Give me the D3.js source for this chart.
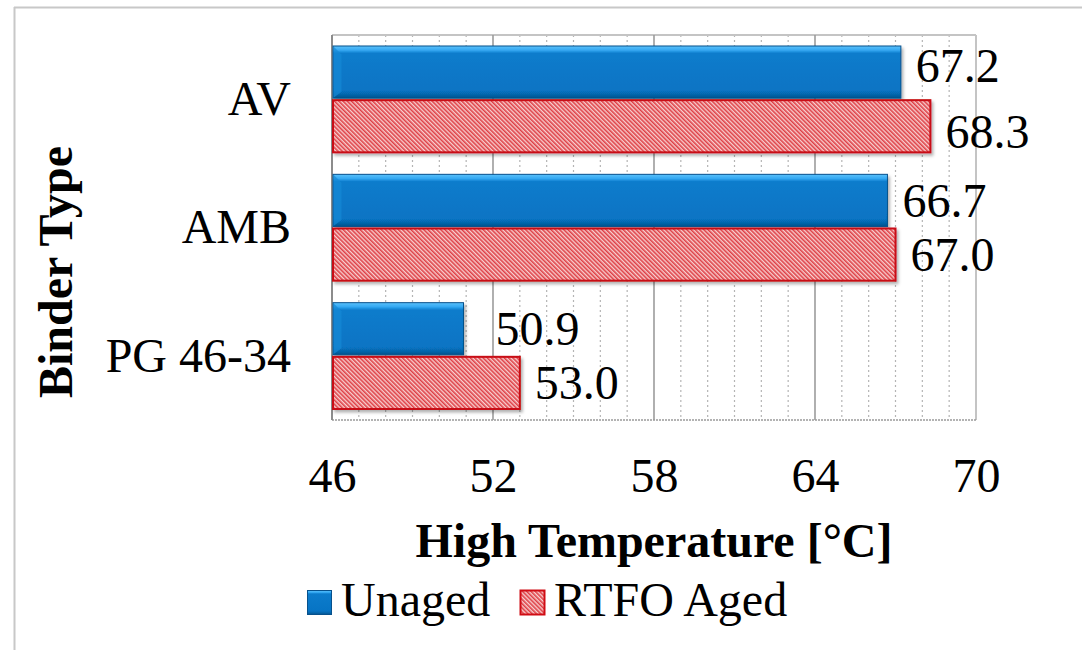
<!DOCTYPE html>
<html>
<head>
<meta charset="utf-8">
<script src="https://cdn.jsdelivr.net/npm/d3@7"></script>
<style>
  html, body { margin: 0; padding: 0; background: #fff; }
  svg { display: block; }
  svg text { font-family: "Liberation Serif", "Times New Roman", Times, "DejaVu Serif", serif !important; fill: #000; }
</style>
</head>
<body>
<svg id="chart" width="1082" height="650"></svg>
<script>
// Binder types and measured high-temperature grades
const categories = ["AV", "AMB", "PG 46-34"];
const seriesNames = ["Unaged", "RTFO Aged"];
const unaged = [67.2, 66.7, 50.9];
const rtfoAged = [68.3, 67.0, 53.0];
const xTicks = [46, 52, 58, 64, 70];

const svg = d3.select("#chart");
const W = 1082, H = 650;
const plot = { left: 332, right: 976, top: 35, bottom: 420 };
const FONT = 48;
const SERIF = '"Liberation Serif", "Times New Roman", Times, "DejaVu Serif", serif';

// small label nudges so neighbouring value labels stay clear of each other
const labelNudge = {
  "AV|Unaged": [0, -6], "AV|RTFO Aged": [0, 5],
  "PG 46-34|Unaged": [17, 0]
};

const defs = svg.append("defs");

// glossy bevelled blue fill
const gBlue = defs.append("linearGradient").attr("id", "blueFill")
  .attr("x1", 0).attr("y1", 0).attr("x2", 0).attr("y2", 1);
[[0, "#5cc2fb"], [0.08, "#34a8f2"], [0.14, "#0c7ccc"], [0.85, "#0774c4"], [0.93, "#0666ac"], [1, "#05528c"]]
  .forEach(([o, c]) => gBlue.append("stop").attr("offset", o).attr("stop-color", c));

// fine red diagonal hatch
const hatch = defs.append("pattern").attr("id", "redHatch")
  .attr("patternUnits", "userSpaceOnUse").attr("width", 3).attr("height", 3)
  .attr("patternTransform", "rotate(-45)");
hatch.append("rect").attr("width", 3).attr("height", 3).attr("fill", "#f8d0d0");
hatch.append("rect").attr("width", 1.6).attr("height", 3).attr("fill", "#de4046");

const shadow = defs.append("filter").attr("id", "barShadow")
  .attr("x", "-5%").attr("y", "-20%").attr("width", "115%").attr("height", "150%");
shadow.append("feDropShadow").attr("dx", 2).attr("dy", 2.5)
  .attr("stdDeviation", 1.6).attr("flood-color", "#000").attr("flood-opacity", 0.3);

// outer frame of the chart object
svg.append("line").attr("x1", 14).attr("x2", W).attr("y1", 7.5).attr("y2", 7.5)
  .attr("stroke", "#c8c8c8").attr("stroke-width", 2);
svg.append("line").attr("x1", 14.5).attr("x2", 14.5).attr("y1", 7).attr("y2", H)
  .attr("stroke", "#c8c8c8").attr("stroke-width", 2);

// scales
const x = d3.scaleLinear().domain([46, 70]).range([plot.left, plot.right]);
const y0 = d3.scaleBand().domain(categories).range([plot.top, plot.bottom]).padding(0);
const y1 = d3.scaleBand().domain(seriesNames).range([10, y0.bandwidth() - 10]).padding(0);

// minor gridlines (dotted, every degree)
const minor = d3.range(47, 70).filter(v => (v - 46) % 6 !== 0);
svg.append("g").selectAll("line").data(minor).join("line")
  .attr("x1", d => x(d)).attr("x2", d => x(d))
  .attr("y1", plot.top).attr("y2", plot.bottom)
  .attr("stroke", "#b4b4b4").attr("stroke-width", 1.2).attr("stroke-dasharray", "2,3");

// plot area border: top and right solid, bottom dotted
svg.append("line").attr("x1", plot.left).attr("x2", plot.right).attr("y1", plot.top).attr("y2", plot.top)
  .attr("stroke", "#c4c4c4").attr("stroke-width", 2);
svg.append("line").attr("x1", plot.right).attr("x2", plot.right).attr("y1", plot.top).attr("y2", plot.bottom)
  .attr("stroke", "#c4c4c4").attr("stroke-width", 2);
svg.append("line").attr("x1", plot.left).attr("x2", plot.right).attr("y1", plot.bottom).attr("y2", plot.bottom)
  .attr("stroke", "#9a9a9a").attr("stroke-width", 1.5).attr("stroke-dasharray", "2,1");

// major gridlines
svg.append("g").selectAll("line").data(xTicks.slice(0, -1)).join("line")
  .attr("x1", d => x(d)).attr("x2", d => x(d))
  .attr("y1", plot.top).attr("y2", plot.bottom)
  .attr("stroke", d => d === 46 ? "#8c8c8c" : "#9c9c9c").attr("stroke-width", d => d === 46 ? 2 : 1.6);

// x axis tick labels
const xAxis = d3.axisBottom(x).tickValues(xTicks).tickSize(0).tickPadding(0).tickFormat(d3.format("d"));
const gx = svg.append("g").attr("transform", `translate(0,${plot.bottom})`).call(xAxis)
  .attr("font-family", SERIF).attr("font-size", FONT);
gx.select(".domain").remove();
gx.selectAll("text").attr("y", 72).attr("dy", null).attr("fill", "#000");

// y axis category labels
const yAxis = d3.axisLeft(y0).tickSize(0).tickPadding(0);
const gy = svg.append("g").attr("transform", "translate(291,0)").call(yAxis)
  .attr("font-family", SERIF).attr("font-size", FONT);
gy.select(".domain").remove();
gy.selectAll("text").attr("x", 0).attr("dy", "0.33em").attr("fill", "#000");

// bars
const rows = categories.map((c, i) => ({ cat: c, vals: [
  { s: "Unaged", v: unaged[i] }, { s: "RTFO Aged", v: rtfoAged[i] } ] }));

const groups = svg.append("g").selectAll("g").data(rows).join("g")
  .attr("transform", d => `translate(0,${y0(d.cat)})`);

groups.selectAll("rect.bar").data(d => d.vals.map(e => ({ ...e, cat: d.cat }))).join("rect")
  .attr("class", "bar")
  .attr("x", x(46) + 1)
  .attr("y", d => y1(d.s) + 1)
  .attr("width", d => x(d.v) - x(46) - 1)
  .attr("height", y1.bandwidth() - 2)
  .attr("fill", d => d.s === "Unaged" ? "url(#blueFill)" : "url(#redHatch)")
  .attr("stroke", d => d.s === "Unaged" ? "#07518c" : "#c80c14")
  .attr("stroke-width", d => d.s === "Unaged" ? 1 : 2)
  .attr("filter", "url(#barShadow)");

// bevel highlight on the left edge of the blue bars
groups.selectAll("path.bevel").data(d => d.vals.filter(e => e.s === "Unaged")).join("path")
  .attr("class", "bevel")
  .attr("d", d => {
    const x0 = x(46) + 1.5, yt = y1(d.s) + 1.5, yb = y1(d.s) + y1.bandwidth() - 1.5;
    return `M${x0},${yt} L${x0 + 8},${yt + 8} L${x0 + 8},${yb - 6} L${x0},${yb} Z`;
  })
  .attr("fill", "#1589d6").attr("opacity", 0.7);

// value labels
groups.selectAll("text.val").data(d => d.vals.map(e => ({ ...e, cat: d.cat }))).join("text")
  .attr("class", "val")
  .attr("x", d => x(d.v) + 15 + (labelNudge[d.cat + "|" + d.s] || [0, 0])[0])
  .attr("y", d => y1(d.s) + y1.bandwidth() / 2 + (labelNudge[d.cat + "|" + d.s] || [0, 0])[1])
  .attr("dy", "0.34em")
  .attr("font-family", SERIF).attr("font-size", FONT)
  .text(d => d3.format(".1f")(d.v));

// axis titles
svg.append("text").attr("x", (plot.left + plot.right) / 2).attr("y", 557)
  .attr("text-anchor", "middle").attr("font-family", SERIF).attr("font-size", FONT).attr("font-weight", "bold")
  .text("High Temperature [°C]");
svg.append("text").attr("transform", "translate(72,272) rotate(-90)")
  .attr("text-anchor", "middle").attr("font-family", SERIF).attr("font-size", FONT).attr("font-weight", "bold")
  .text("Binder Type");

// legend
const legendItems = [
  { name: seriesNames[0], x: 307, fill: "url(#blueFill)", stroke: "#07518c", sw: 1 },
  { name: seriesNames[1], x: 520, fill: "url(#redHatch)", stroke: "#d00c14", sw: 2 }
];
const lg = svg.append("g").selectAll("g").data(legendItems).join("g")
  .attr("transform", d => `translate(${d.x},590)`);
lg.append("rect").attr("x", 0.5).attr("y", 0.5).attr("width", 24).attr("height", 24)
  .attr("fill", d => d.fill).attr("stroke", d => d.stroke).attr("stroke-width", d => d.sw);
lg.append("text").attr("x", 34).attr("y", 26).attr("font-family", SERIF).attr("font-size", FONT).text(d => d.name);
</script>
</body>
</html>
